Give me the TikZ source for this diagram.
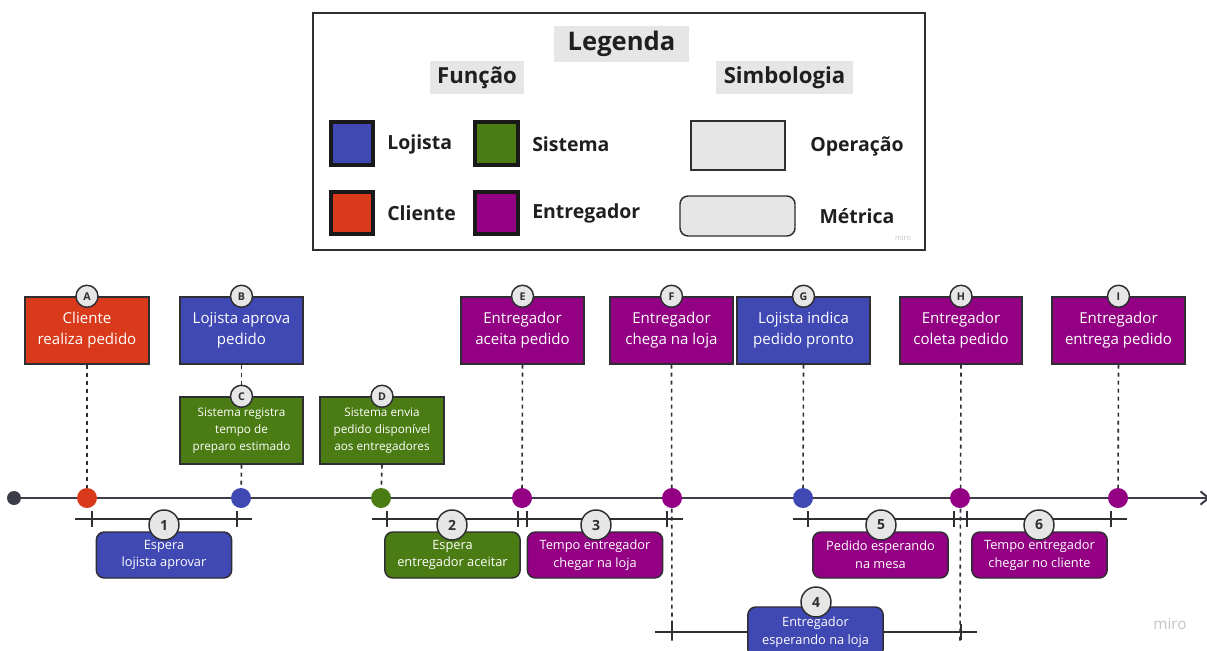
\documentclass[tikz,border=0pt]{standalone}
\usepackage{fontspec}
\setmainfont{Open Sans}
\usetikzlibrary{arrows.meta}

\definecolor{cliente}{HTML}{D93A1C}
\definecolor{lojista}{HTML}{3F48B3}
\definecolor{sistema}{HTML}{4A7C13}
\definecolor{entregador}{HTML}{930084}
\definecolor{chip}{HTML}{E6E6E6}
\definecolor{ink}{HTML}{2E2E33}
\definecolor{axis}{HTML}{3D3D48}
\definecolor{faint}{HTML}{C4C4CA}

\newcommand\opfont{\fontsize{11.3}{15.8}\selectfont}
\newcommand\smallopfont{\fontsize{8.8}{12.8}\selectfont}
\newcommand\metfont{\fontsize{9.6}{13.4}\selectfont}

\tikzset{
  op/.style={draw=ink, line width=1.1pt, text=white, align=center, inner sep=0pt,
             minimum height=50.25pt, font=\opfont},
  opsmall/.style={op, font=\smallopfont},
  met/.style={draw=ink, line width=1.1pt, text=white, align=center, inner sep=0pt,
              rounded corners=6pt, minimum height=34.5pt, minimum width=101.5pt, font=\metfont},
  tag/.style={circle, draw=ink, fill=chip, line width=1.1pt, inner sep=0pt,
              minimum size=16.5pt, font=\bfseries\fontsize{8}{8}\selectfont, text=ink},
  num/.style={circle, draw=ink, fill=chip, line width=1.1pt, inner sep=0pt,
              minimum size=22.5pt, font=\bfseries\fontsize{10.5}{10.5}\selectfont, text=ink},
  dot/.style={circle, inner sep=0pt, minimum size=15pt},
  guide/.style={draw=ink, line width=1.2pt, dash pattern=on 3pt off 3pt},
  bar/.style={draw=ink, line width=2.2pt},
  tick/.style={draw=ink, line width=2.2pt},
  swatch/.style={draw=black!90, line width=3pt, minimum width=32pt, minimum height=32pt, inner sep=0pt},
  legtxt/.style={font=\bfseries\fontsize{14.6}{14.6}\selectfont, text=black!88, anchor=west, inner sep=0pt},
  leghead/.style={fill=chip, font=\bfseries\fontsize{16.6}{16.6}\selectfont, text=black!88, inner sep=0pt},
}

\begin{document}
\begin{tikzpicture}[x=0.75pt, y=-0.75pt]
\useasboundingbox (0,0) rectangle (1207,650);
\clip (0,0) rectangle (1207,650);
\fill[white] (0,0) rectangle (1207,650);

% ---------- legend ----------
\node[draw=ink, line width=1.5pt, minimum width=459pt, minimum height=177.75pt, inner sep=0pt] (legend) at (619,131.5) {};
\node[leghead, minimum width=101.25pt, minimum height=27pt, font=\bfseries\fontsize{19.2}{19.2}\selectfont] (legtitle) at (621.5,44) {Legenda};
\node[leghead, minimum width=70.5pt, minimum height=24.75pt] (hfun) at (477,77.5) {Função};
\node[leghead, minimum width=102.75pt, minimum height=24.75pt] (hsym) at (784.5,77.5) {Simbologia};

\node[swatch, fill=lojista] (sL) at (352,143.5) {};
\node[legtxt] (tL) at (387,144) {Lojista};
\node[swatch, fill=sistema] (sS) at (496.5,143.5) {};
\node[legtxt] (tS) at (532,144) {Sistema};
\node[swatch, fill=cliente] (sC) at (352,213) {};
\node[legtxt] (tC) at (387,213) {Cliente};
\node[swatch, fill=entregador] (sE) at (496.5,213) {};
\node[legtxt] (tE) at (532,213) {Entregador};

\node[draw=ink, line width=1.1pt, fill=chip, minimum width=70.5pt, minimum height=36.75pt, inner sep=0pt] (symop) at (738,145.5) {};
\node[legtxt, anchor=center] (tOp) at (857,146) {Operação};
\node[draw=ink, line width=1.1pt, fill=chip, rounded corners=6pt, minimum width=86.25pt, minimum height=30pt, inner sep=0pt] (symmet) at (737.5,216) {};
\node[legtxt, anchor=center] (tMet) at (857,216) {Métrica};
\node[font=\fontsize{5.5}{5.5}\selectfont, text=faint, inner sep=0pt] (miroA) at (903,238) {miro};

% ---------- events (operations) ----------
\node[op, fill=cliente,    minimum width=93pt]    (A) at (87,330.5)    {Cliente\\realiza pedido};
\node[op, fill=lojista,    minimum width=92.25pt] (B) at (241.5,330.5) {Lojista aprova\\pedido};
\node[opsmall, fill=sistema, minimum width=92.25pt] (C) at (241.5,430.5) {Sistema registra\\tempo de\\preparo estimado};
\node[opsmall, fill=sistema, minimum width=93pt]    (D) at (382,430.5)   {Sistema envia\\pedido disponível\\aos entregadores};
\node[op, fill=entregador, minimum width=92.25pt] (E) at (522.5,330.5) {Entregador\\aceita pedido};
\node[op, fill=entregador, minimum width=92.25pt] (F) at (671.5,330.5) {Entregador\\chega na loja};
\node[op, fill=lojista,    minimum width=99.75pt] (G) at (803.5,330.5) {Lojista indica\\pedido pronto};
\node[op, fill=entregador, minimum width=91.5pt]  (H) at (961,330.5)   {Entregador\\coleta pedido};
\node[op, fill=entregador, minimum width=99.75pt] (I) at (1118.5,330.5) {Entregador\\entrega pedido};

% points on the time axis
\coordinate (pA) at (87,498);
\coordinate (pB) at (241,498);
\coordinate (pD) at (381,498);
\coordinate (pE) at (522,498);
\coordinate (pF) at (672,498);
\coordinate (pG) at (803,498);
\coordinate (pH) at (960,498);
\coordinate (pI) at (1118,498);
\coordinate (start) at (14,498);
\coordinate (end) at (1210,498);
\coordinate (fLow) at (672,642);
\coordinate (hLow) at (960,642);

% dashed guides from each event down to the axis
\draw[guide] (A.south) -- (pA);
\draw[guide] (B.south) -- (C.north);
\draw[guide] (C.south) -- (pB);
\draw[guide] (D.south) -- (pD);
\draw[guide] (E.south) -- (pE);
\draw[guide] (F.south) -- (fLow);
\draw[guide] (G.south) -- (pG);
\draw[guide] (H.south) -- (hLow);
\draw[guide] (I.south) -- (pI);

% time axis
\draw[draw=axis, line width=2.2pt, -{Straight Barb[length=6pt, width=10pt, line width=1.5pt]}] (start) -- (end);
\node[dot, fill=axis, minimum size=10.5pt] (s0) at (start) {};
\node[dot, fill=cliente]    (a) at (pA) {};
\node[dot, fill=lojista]    (b) at (pB) {};
\node[dot, fill=sistema]    (d) at (pD) {};
\node[dot, fill=entregador] (e) at (pE) {};
\node[dot, fill=entregador] (f) at (pF) {};
\node[dot, fill=lojista]    (g) at (pG) {};
\node[dot, fill=entregador] (h) at (pH) {};
\node[dot, fill=entregador] (i) at (pI) {};

% event letters
\foreach \n in {A,B,C,D,E,F,G,H,I}
  \node[tag] (t\n) at (\n.north) {\n};

% ---------- metrics ----------
% 1
\coordinate (m1a) at (75,519);  \coordinate (m1b) at (252,519);
\draw[bar] (m1a) -- (m1b);
\draw[tick] (92,511) -- (92,527);  \draw[tick] (237,511) -- (237,527);
\node[met, fill=lojista] (M1) at (164,555) {Espera\\lojista aprovar};
\node[num] (n1) at (164,525) {1};
% 2
\coordinate (m2a) at (372,519); \coordinate (m2b) at (522,519);
\draw[bar] (m2a) -- (m2b);
\draw[tick] (387,511) -- (387,527); \draw[tick] (518,511) -- (518,527);
\node[met, fill=sistema] (M2) at (452.5,555) {Espera\\entregador aceitar};
\node[num] (n2) at (452,525) {2};
% 3
\coordinate (m3a) at (522,519); \coordinate (m3b) at (683,519);
\draw[bar] (m3a) -- (m3b);
\draw[tick] (527,511) -- (527,527); \draw[tick] (667,511) -- (667,527);
\node[met, fill=entregador] (M3) at (595,555) {Tempo entregador\\chegar na loja};
\node[num] (n3) at (596,525) {3};
% 5
\coordinate (m5a) at (793,519); \coordinate (m5b) at (960,519);
\draw[bar] (m5a) -- (m5b);
\draw[tick] (808,511) -- (808,527); \draw[tick] (954,511) -- (954,527);
\node[met, fill=entregador] (M5) at (880.5,555) {Pedido esperando\\na mesa};
\node[num] (n5) at (881,525) {5};
% 6
\coordinate (m6a) at (960,519); \coordinate (m6b) at (1127,519);
\draw[bar] (m6a) -- (m6b);
\draw[tick] (967,511) -- (967,527); \draw[tick] (1111,511) -- (1111,527);
\node[met, fill=entregador] (M6) at (1039.5,555) {Tempo entregador\\chegar no cliente};
\node[num] (n6) at (1039,525) {6};
% 4
\coordinate (m4a) at (655,632); \coordinate (m4b) at (977,632);
\draw[bar] (m4a) -- (m4b);
\draw[tick] (672,624) -- (672,640); \draw[tick] (961,624) -- (961,640);
\node[met, fill=lojista, minimum height=37.5pt] (M4) at (815.5,632) {Entregador\\esperando na loja};
\node[num] (n4) at (816,602) {4};

\node[font=\fontsize{11.5}{11.5}\selectfont, text=faint, inner sep=0pt] (miroB) at (1170,624) {miro};
\end{tikzpicture}
\end{document}
